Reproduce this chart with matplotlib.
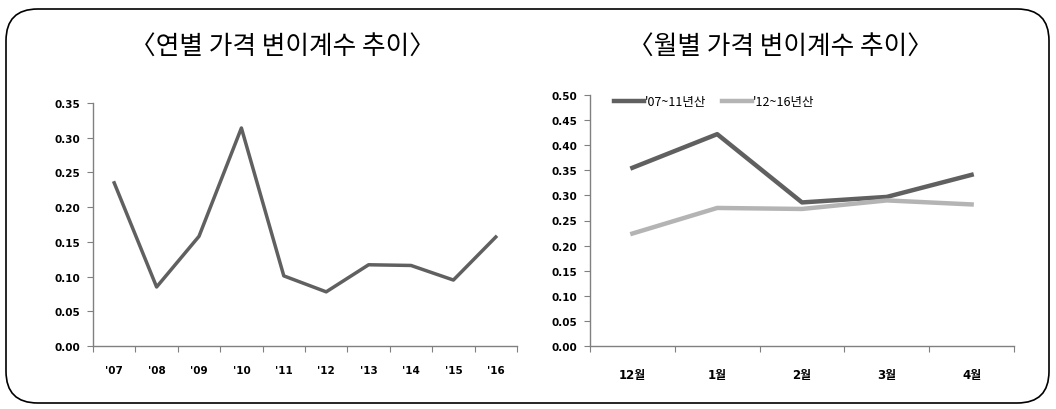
import matplotlib as mpl
mpl.use('Agg')
import matplotlib.pyplot as plt
import numpy as np
from matplotlib.patches import FancyBboxPatch

plt.rcParams['font.family'] = ['Noto Sans CJK KR', 'DejaVu Sans']

years = ["'07", "'08", "'09", "'10", "'11", "'12", "'13", "'14", "'15", "'16"]
year_cv = [0.235, 0.085, 0.158, 0.314, 0.101, 0.078, 0.117, 0.116, 0.095, 0.157]

months = ['12월', '1월', '2월', '3월', '4월']
cv_07_11 = [0.355, 0.422, 0.286, 0.297, 0.341]
cv_12_16 = [0.224, 0.275, 0.273, 0.290, 0.282]
series_names = ["'07~11년산", "'12~16년산"]

dark = '#606060'
light = '#b4b4b4'
tick_font = ['DejaVu Sans', 'Noto Sans CJK KR']

fig = plt.figure(figsize=(10.56, 4.10), dpi=100)

# rounded frame
frame = FancyBboxPatch((6/1056, 6/410), 1043/1056, 394/410,
                       boxstyle='round,pad=0,rounding_size=0.03',
                       transform=fig.transFigure, fill=False,
                       edgecolor='black', linewidth=1.2, mutation_aspect=1056/410)
fig.patches.append(frame)

fig.text(282/1056, 1-47/410, '〈연별 가격 변이계수 추이〉', ha='center', va='center', fontsize=18.5)
fig.text(780/1056, 1-47/410, '〈월별 가격 변이계수 추이〉', ha='center', va='center', fontsize=18.5)


def style_axis(ax, n, labels, ymax, step, lsize):
	for s in ['top', 'right']:
		ax.spines[s].set_visible(False)
	for s in ['left', 'bottom']:
		ax.spines[s].set_color('#808080')
		ax.spines[s].set_linewidth(1.0)
	ax.set_xlim(0, n)
	ax.set_ylim(0, ymax)
	ax.set_xticks(np.arange(n + 1))
	ax.set_xticklabels([])
	ax.set_xticks(np.arange(n) + 0.5, minor=True)
	ax.set_xticklabels(labels, minor=True, fontsize=lsize, fontweight='bold', family=tick_font)
	yt = np.arange(0, ymax + 1e-6, step)
	ax.set_yticks(yt)
	ax.set_yticklabels(['%.2f' % v for v in yt], fontsize=7.5, fontweight='bold', family=tick_font)
	ax.tick_params(axis='x', which='major', direction='out', length=4, color='#808080')
	ax.tick_params(axis='x', which='minor', length=0, pad=14)
	ax.tick_params(axis='y', direction='out', length=4, color='#808080', pad=5)


ax1 = fig.add_axes([93/1056, 1-347/410, 424/1056, 243/410])
x1 = np.arange(len(years)) + 0.5
ax1.plot(x1, year_cv, color=dark, linewidth=2.5)
style_axis(ax1, len(years), years, 0.35, 0.05, 7.5)

ax2 = fig.add_axes([590/1056, 1-347/410, 424/1056, 251/410])
x2 = np.arange(len(months)) + 0.5
ax2.plot(x2, cv_07_11, color=dark, linewidth=3.2, label=series_names[0])
ax2.plot(x2, cv_12_16, color=light, linewidth=3.2, label=series_names[1])
style_axis(ax2, len(months), months, 0.50, 0.05, 8.5)
ax2.tick_params(axis='x', which='minor', pad=16)
ax2.legend(loc='upper left', bbox_to_anchor=(0.03, 1.045), ncol=2, frameon=False,
           fontsize=9, handlelength=2.4, handletextpad=0.05, columnspacing=1.3)

plt.savefig('out.png', dpi=100)
